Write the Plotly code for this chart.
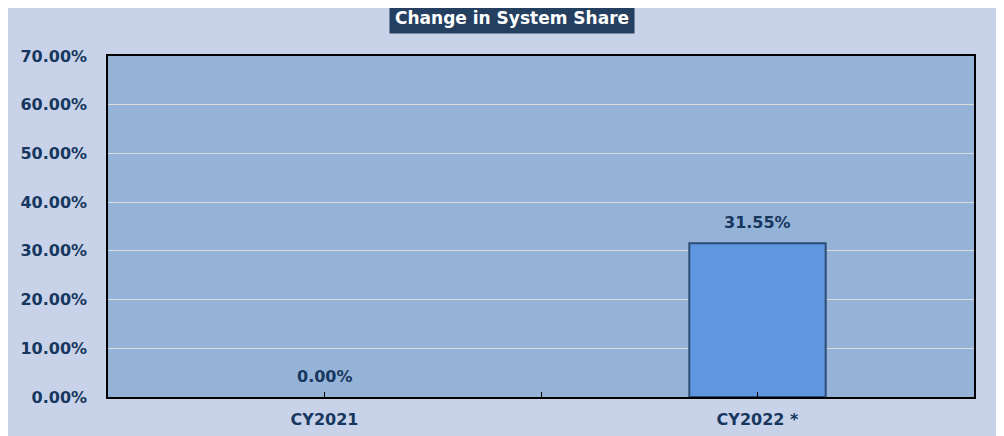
import plotly.graph_objects as go

categories = ["CY2021", "CY2022 *"]
values = [0.0, 31.55]
y_ticks = [0, 10, 20, 30, 40, 50, 60, 70]
title_text = "Change in System Share"

navy = "#17375E"
font_family = "'DejaVu Sans', Verdana, sans-serif"

xs = list(range(len(categories)))

fig = go.Figure()
fig.add_trace(go.Bar(
    x=xs, y=values, width=0.315,
    marker=dict(color="#5E97E0",
                line=dict(color="#2F4D73", width=[0 if v == 0 else 2 for v in values])),
    hoverinfo="skip",
))

for x, v in zip(xs, values):
    fig.add_annotation(x=x, y=v, text=f"<b>{v:.2f}%</b>", showarrow=False,
                       yanchor="bottom", yshift=9,
                       font=dict(family=font_family, size=16, color=navy))

fig.add_annotation(xref="paper", yref="paper", x=0.466, y=1, yshift=38,
                   text=f"<b>{title_text}</b>", showarrow=False,
                   yanchor="middle",
                   font=dict(family=font_family, size=17, color="white"),
                   bgcolor="#243F60", borderpad=5)

fig.update_layout(
    width=1004, height=436,
    margin=dict(l=97, r=38, t=48, b=47),
    paper_bgcolor="#C8D3EA",
    plot_bgcolor="#95B3D7",
    showlegend=False,
    font=dict(family=font_family, size=16, color=navy),
    xaxis=dict(
        range=[-0.5, 1.5],
        tickmode="array", tickvals=xs, ticktext=[f"<b>{c}</b>" for c in categories],
        ticks="inside", ticklen=5, tickcolor="black", tickwidth=1,
        minor=dict(dtick=0.5, tick0=-0.5, ticks="inside", ticklen=5, tickcolor="black", showgrid=False),
        showline=True, linecolor="black", linewidth=2, mirror=True,
        showgrid=False, zeroline=False,
        ticklabelstandoff=7,
        tickfont=dict(family=font_family, size=16, color=navy),
    ),
    yaxis=dict(
        range=[0, 70],
        tickmode="array", tickvals=y_ticks,
        ticktext=[f"<b>{t:.2f}%</b>" for t in y_ticks],
        showgrid=True, gridcolor="#DCDCDC", gridwidth=1,
        showline=True, linecolor="black", linewidth=1.5, mirror=True,
        zeroline=False, ticks="",
        ticklabelstandoff=16,
        tickfont=dict(family=font_family, size=16, color=navy),
    ),
)

fig.write_html("out.html")
